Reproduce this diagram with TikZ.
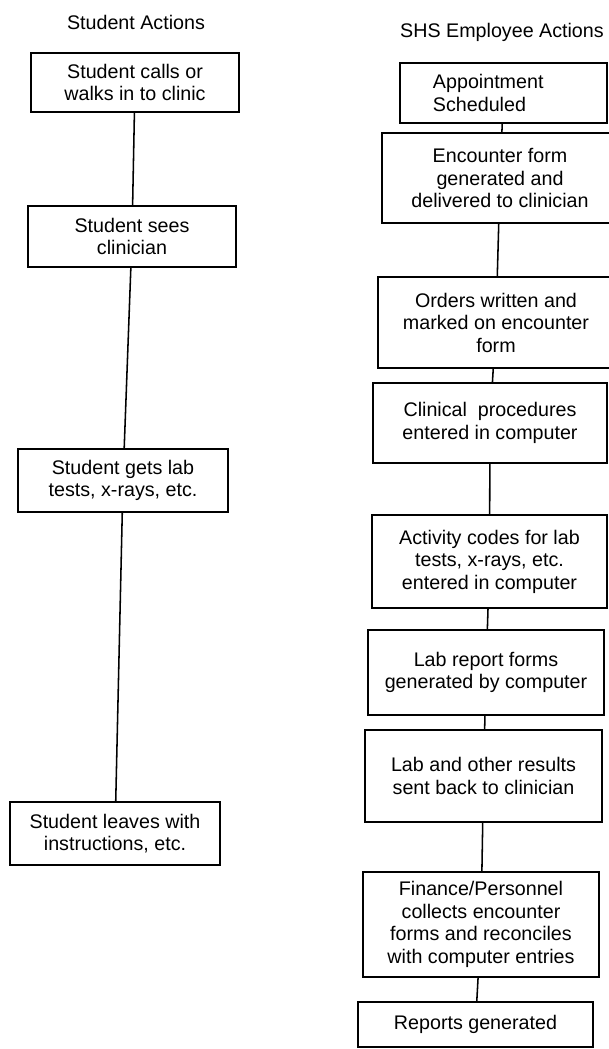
\documentclass[tikz,border=0pt]{standalone}
\usepackage{fontspec}
\setmainfont{Liberation Sans}
\begin{document}
\begin{tikzpicture}[x=0.025cm,y=-0.025cm,
  box/.style={draw, line width=1.1pt, inner sep=0pt, align=center,
    font=\fontsize{14}{16}\selectfont},
  frame/.style n args={4}{box, at={({(#1+#3)/2},{(#2+#4)/2})},
    minimum width={(#3-#1)*0.025cm}, minimum height={(#4-#2)*0.025cm}},
  title/.style={font=\fontsize{14}{16}\selectfont, inner sep=0pt},
  conn/.style={draw, line width=1.1pt}]
\useasboundingbox (0,0) rectangle (608,1049);
% titles
\node[title] (tl) at (136,22) {Student Actions};
\node[title] (tr) at (502,32) {SHS Employee Actions};
% student column
\node[frame={31}{53}{239}{112}] (L1) {Student calls or\\walks in to clinic};
\node[frame={28}{206}{236}{267}] (L2) {Student sees\\clinician};
\node[frame={18}{449}{228}{512}] (L3) {Student gets lab\\tests, x-rays, etc.};
\node[frame={10}{802}{220}{865}] (L4) {Student leaves with\\instructions, etc.};
% employee column
\node[frame={400}{63}{607}{123}, align=left, text width=3.525cm] (R1) {Appointment\\Scheduled};
\node[frame={382}{133}{618}{223}] (R2) {Encounter form\\generated and\\delivered to clinician};
\node[frame={378}{277}{614}{368}] (R3) {Orders written and\\marked on encounter\\form};
\node[frame={373}{383}{607}{463}] (R4) {Clinical\ \ procedures\\entered in computer};
\node[frame={372}{515}{607}{608}] (R5) {Activity codes for lab\\tests, x-rays, etc.\\entered in computer};
\node[frame={368}{630}{604}{715}] (R6) {Lab report forms\\generated by computer};
\node[frame={365}{730}{602}{822}] (R7) {Lab and other results\\sent back to clinician};
\node[frame={363}{872}{599}{977}] (R8) {Finance/Personnel\\collects encounter\\forms and reconciles\\with computer entries};
\node[frame={358}{1002}{593}{1047}] (R9) {Reports generated};
% connectors
\draw[conn] (L1) -- (L2);
\draw[conn] (L2) -- (L3);
\draw[conn] (L3) -- (L4);
\draw[conn] (R1) -- (R2);
\draw[conn] (R2) -- (R3);
\draw[conn] (R3) -- (R4);
\draw[conn] (R4) -- (R5);
\draw[conn] (R5) -- (R6);
\draw[conn] (R6) -- (R7);
\draw[conn] (R7) -- (R8);
\draw[conn] (R8) -- (R9);
\end{tikzpicture}
\end{document}
